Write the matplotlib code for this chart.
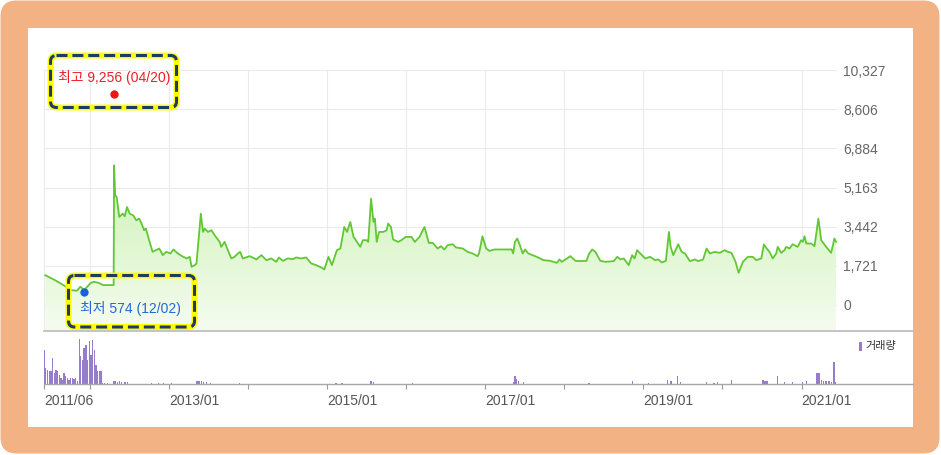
import numpy as np
import pandas as pd
import matplotlib
matplotlib.use('Agg')
import matplotlib.pyplot as plt
import matplotlib.dates as mdates
from matplotlib.patches import FancyBboxPatch, Rectangle
from matplotlib.colors import LinearSegmentedColormap
from matplotlib.lines import Line2D

plt.rcParams['font.family'] = ['Liberation Sans', 'Noto Sans CJK KR', 'DejaVu Sans']

# ---------------- data ----------------
price_dates = [
    '2011-06-07', '2011-07-21', '2011-09-07', '2011-09-30', '2011-10-31', '2011-11-16', '2011-11-30', '2011-12-02',
    '2012-01-01', '2012-01-16', '2012-02-07', '2012-02-29', '2012-04-18', '2012-04-20', '2012-04-25', '2012-05-02',
    '2012-05-14', '2012-05-30', '2012-06-08', '2012-06-19', '2012-07-01', '2012-07-17', '2012-08-01', '2012-08-14',
    '2012-08-25', '2012-09-06', '2012-09-14', '2012-09-29', '2012-10-15', '2012-10-31', '2012-11-15', '2012-12-01',
    '2012-12-17', '2013-01-05', '2013-01-20', '2013-02-05', '2013-02-28', '2013-03-22', '2013-04-05', '2013-04-13',
    '2013-04-28', '2013-05-06', '2013-05-26', '2013-06-05', '2013-06-13', '2013-06-28', '2013-07-14', '2013-07-29',
    '2013-08-21', '2013-08-28', '2013-09-13', '2013-09-28', '2013-10-14', '2013-10-29', '2013-11-13', '2013-11-24',
    '2013-12-06', '2014-01-07', '2014-02-07', '2014-03-02', '2014-03-25', '2014-04-17', '2014-05-10', '2014-05-22',
    '2014-06-09', '2014-07-02', '2014-07-25', '2014-08-10', '2014-09-02', '2014-09-25', '2014-10-18', '2014-11-10',
    '2014-12-03', '2014-12-18', '2015-01-06', '2015-01-22', '2015-02-14', '2015-03-02', '2015-03-20', '2015-04-02',
    '2015-04-17', '2015-05-02', '2015-05-18', '2015-06-02', '2015-06-14', '2015-07-02', '2015-07-09', '2015-07-22',
    '2015-08-02', '2015-08-09', '2015-08-17', '2015-08-28', '2015-09-16', '2015-10-02', '2015-10-09', '2015-10-22',
    '2015-11-01', '2015-11-24', '2015-12-09', '2015-12-29', '2016-01-25', '2016-02-09', '2016-03-02', '2016-03-25',
    '2016-04-14', '2016-05-02', '2016-05-25', '2016-06-09', '2016-06-25', '2016-07-10', '2016-08-02', '2016-08-18',
    '2016-09-18', '2016-10-10', '2016-11-02', '2016-11-25', '2016-12-02', '2016-12-18', '2017-01-04', '2017-01-19',
    '2017-02-11', '2017-05-02', '2017-05-09', '2017-05-17', '2017-05-28', '2017-06-09', '2017-06-22', '2017-07-03',
    '2017-07-18', '2017-08-26', '2017-09-26', '2017-10-27', '2017-11-27', '2017-12-09', '2017-12-20', '2018-01-13',
    '2018-01-28', '2018-02-21', '2018-03-16', '2018-04-13', '2018-04-24', '2018-05-09', '2018-05-24', '2018-06-16',
    '2018-07-09', '2018-08-17', '2018-09-02', '2018-09-17', '2018-10-02', '2018-10-25', '2018-11-10', '2018-11-21',
    '2018-12-03', '2018-12-18', '2018-12-26', '2019-01-09', '2019-02-01', '2019-02-24', '2019-03-11', '2019-03-27',
    '2019-04-15', '2019-04-29', '2019-05-07', '2019-05-19', '2019-06-11', '2019-06-27', '2019-07-12', '2019-08-04',
    '2019-08-27', '2019-09-11', '2019-10-04', '2019-10-20', '2019-11-04', '2019-11-27', '2019-12-20', '2020-01-12',
    '2020-01-27', '2020-02-12', '2020-03-02', '2020-03-16', '2020-04-05', '2020-04-28', '2020-05-21', '2020-06-06',
    '2020-06-29', '2020-07-11', '2020-07-24', '2020-08-06', '2020-08-21', '2020-09-06', '2020-09-13', '2020-09-29',
    '2020-10-14', '2020-10-22', '2020-11-06', '2020-11-21', '2020-12-14', '2020-12-30', '2021-01-07', '2021-01-15',
    '2021-01-23', '2021-02-15', '2021-03-02', '2021-03-20', '2021-04-02', '2021-04-25', '2021-05-18', '2021-06-02',
    '2021-06-10',
]
price_values = [
    1310, 1095, 830, 657, 626, 802, 688, 640,
    950, 1020, 977, 876, 876, 6132, 4818, 4744,
    3868, 4016, 3898, 4306, 4016, 3942, 3723, 3797,
    3578, 3285, 3359, 2847, 2335, 2409, 2483, 2190,
    2335, 2264, 2440, 2291, 2146, 2045, 2116, 1678,
    1752, 1826, 4016, 3211, 3359, 3211, 3285, 3066,
    2773, 2554, 2773, 2409, 2045, 2116, 2264, 2335,
    2045, 2146, 2002, 2190, 1971, 2045, 1897, 2089,
    1940, 2045, 2015, 2089, 2045, 2089, 1826, 1752,
    1651, 1564, 2116, 1752, 2409, 2483, 3430, 3211,
    3649, 2992, 2773, 2554, 2847, 2847, 2773, 4673,
    3649, 3797, 2773, 3211, 3211, 3285, 3578, 3430,
    2878, 2773, 2847, 2992, 2992, 2773, 2992, 3430,
    2729, 2729, 2483, 2584, 2440, 2628, 2672, 2527,
    2483, 2335, 2264, 2146, 2264, 3022, 2483, 2378,
    2440, 2440, 2264, 2773, 2921, 2628, 2264, 2440,
    2264, 2116, 1971, 1940, 1853, 2002, 1897, 2045,
    2146, 1940, 1927, 1940, 2234, 2440, 2335, 1940,
    1897, 1927, 2116, 2002, 2045, 1752, 2190, 2045,
    2409, 2264, 2190, 2045, 2116, 1971, 2002, 1870,
    1940, 3211, 2554, 2190, 2672, 2335, 2264, 1927,
    2002, 1927, 2002, 2483, 2264, 2335, 2291, 2409,
    2335, 2291, 1897, 1415, 1897, 2116, 2116, 1971,
    2045, 2659, 2483, 2335, 2045, 2264, 2554, 2291,
    2409, 2554, 2483, 2672, 2554, 2847, 2773, 3022,
    2702, 2702, 2584, 3797, 2847, 2554, 2291, 2921,
    2773,
]

vol_dates = [
    '2011-06-01', '2011-06-09', '2011-06-16', '2011-06-25', '2011-07-03', '2011-07-11', '2011-07-18', '2011-07-26',
    '2011-08-03', '2011-08-11', '2011-08-19', '2011-08-26', '2011-09-02', '2011-09-10', '2011-09-17', '2011-09-25',
    '2011-10-03', '2011-10-10', '2011-10-18', '2011-10-26', '2011-11-02', '2011-11-11', '2011-11-18', '2011-11-25',
    '2011-12-03', '2011-12-12', '2011-12-20', '2011-12-28', '2012-01-04', '2012-01-11', '2012-01-19', '2012-01-27',
    '2012-02-03', '2012-02-12', '2012-02-20', '2012-02-28', '2012-03-08', '2012-03-20', '2012-04-20', '2012-04-27',
    '2012-05-07', '2012-05-14', '2012-05-25', '2012-06-10', '2012-06-20', '2012-10-10', '2012-11-10', '2012-12-05',
    '2013-01-10', '2013-05-08', '2013-05-18', '2013-05-28', '2013-06-08', '2013-06-20', '2013-07-10', '2013-11-20',
    '2015-02-10', '2015-03-10', '2015-07-22', '2015-08-01', '2016-01-30', '2017-05-10', '2017-05-17', '2017-05-25',
    '2017-06-02', '2017-06-26', '2018-04-25', '2018-11-13', '2019-01-25', '2019-04-24', '2019-05-08', '2019-06-09',
    '2019-06-23', '2019-10-21', '2019-11-24', '2019-12-08', '2020-02-12', '2020-07-07', '2020-07-16', '2020-07-25',
    '2020-09-12', '2020-10-14', '2020-11-21', '2021-01-05', '2021-01-23', '2021-03-14', '2021-03-23', '2021-04-02',
    '2021-04-12', '2021-04-24', '2021-05-08', '2021-05-18', '2021-05-31', '2021-06-07',
]
vol_values = [
    340, 160, 140, 130, 130, 260, 110, 140,
    130, 90, 60, 40, 110, 80, 60, 40,
    60, 60, 50, 60, 30, 450, 280, 240,
    360, 390, 240, 430, 290, 440, 340, 190,
    130, 130, 130, 8, 6, 5, 25, 22,
    20, 25, 15, 12, 15, 6, 7, 6,
    8, 25, 22, 25, 20, 15, 10, 8,
    8, 8, 30, 15, 8, 15, 80, 50,
    30, 20, 10, 25, 10, 40, 30, 75,
    15, 20, 10, 15, 40, 35, 30, 25,
    75, 20, 15, 20, 30, 110, 110, 40,
    30, 25, 25, 20, 220, 20,
]

y_ticks = [0, 1721, 3442, 5163, 6884, 8606, 10327]
x_tick_dates = ['2011-06-01', '2012-01-01', '2013-01-01', '2014-01-01', '2015-01-01', '2016-01-01',
                '2017-01-01', '2018-01-01', '2019-01-01', '2020-01-01', '2021-01-01']
x_tick_labels = ['2011/06', '', '2013/01', '', '2015/01', '', '2017/01', '', '2019/01', '', '2021/01']
grid_dates = ['2012-01-01', '2013-01-01', '2014-01-01', '2015-01-01', '2016-01-01',
              '2017-01-01', '2018-01-01', '2019-01-01', '2020-01-01', '2021-01-01']
x_start, x_end = '2011-06-01', '2021-06-14'

high_label, high_date, high_value = '최고 9,256 (04/20)', '2012-04-20', 9256
low_label, low_date, low_value = '최저 574 (12/02)', '2011-12-02', 574
volume_label = '거래량'

# ---------------- figure ----------------
W, H = 941, 455
fig = plt.figure(figsize=(W / 100, H / 100), dpi=100)
fig.patch.set_facecolor('white')

def rect(l, t, r, b):
    return [l / W, 1 - b / H, (r - l) / W, (b - t) / H]

# background frame
bg = fig.add_axes([0, 0, 1, 1], zorder=-5)
bg.set_xlim(0, W); bg.set_ylim(H, 0); bg.axis('off')
bg.add_patch(FancyBboxPatch((0.5, 0.5), 939, 453, boxstyle='round,pad=0,rounding_size=16',
                            fc='#F3B284', ec='none'))
bg.add_patch(Rectangle((28, 28), 885, 399, fc='white', ec='none'))

# main price axes
ymin, ymax = -1099, 10327
ax = fig.add_axes(rect(44, 70, 837, 330), zorder=1)
ax.set_facecolor('none')
px = mdates.date2num(pd.to_datetime(price_dates))
py = np.array(price_values, dtype=float)
xl = mdates.date2num(pd.to_datetime([x_start, x_end]))

poly = ax.fill_between(px, py, ymin, facecolor='none', edgecolor='none')
cmap = LinearSegmentedColormap.from_list('g', ['#F5FCEF', '#CBF2B4'])
grad = np.linspace(0, 1, 256).reshape(-1, 1)
im = ax.imshow(grad, extent=[px.min(), px.max(), ymin, 6300], origin='lower',
               aspect='auto', cmap=cmap, zorder=1, interpolation='bilinear')
im.set_clip_path(poly.get_paths()[0], transform=ax.transData)
ax.plot(px, py, color='#62C735', lw=1.3, zorder=3, solid_joinstyle='round')

ax.set_xlim(xl[0], xl[1])
ax.set_ylim(ymin, ymax)
ax.set_yticks(y_ticks)
ax.set_yticklabels([f'{v:,}' for v in y_ticks])
ax.set_xticks(mdates.date2num(pd.to_datetime(grid_dates)))
ax.grid(True, color='#EBEBEB', lw=0.8)
ax.set_axisbelow(True)
ax.yaxis.tick_right()
ax.tick_params(axis='y', length=0, pad=4.5, labelsize=10, labelcolor='#666666')
ax.tick_params(axis='x', length=0, labelbottom=False)
for s in ['top', 'right', 'bottom']:
    ax.spines[s].set_visible(False)
ax.spines['left'].set_color('#EBEBEB')
ax.spines['left'].set_linewidth(0.8)

# high / low markers and labels
hd = mdates.date2num(pd.to_datetime(high_date))
ld = mdates.date2num(pd.to_datetime(low_date))
ax.plot([hd], [high_value], 'o', color='#F01616', ms=6, mec='none', zorder=6, clip_on=False)
ax.annotate(high_label, xy=(hd, high_value), xytext=(0, 12.5), textcoords='offset points',
            ha='center', va='center', color='#E8202A', fontsize=10, zorder=6)
ax.plot([ld], [low_value], 'o', color='#1C60D8', ms=6, mec='none', zorder=6, clip_on=False)
ax.annotate(low_label, xy=(ld, low_value), xytext=(-3, -11.8), textcoords='offset points',
            ha='left', va='center', color='#2468D4', fontsize=10, zorder=6)

# volume axes
axv = fig.add_axes(rect(44, 331, 837, 383.5), zorder=1)
axv.set_facecolor('none')
vd = mdates.date2num(pd.to_datetime(vol_dates))
axv.bar(vd, vol_values, width=6, color='#977CCB', linewidth=0, zorder=2)
axv.set_xlim(xl[0], xl[1])
axv.set_ylim(0, 525)
axv.set_yticks([])
for s in axv.spines.values():
    s.set_visible(False)
axv.set_xticks(mdates.date2num(pd.to_datetime(x_tick_dates)))
axv.set_xticklabels(x_tick_labels)
axv.tick_params(axis='x', length=3.6, width=0.8, color='#999999', pad=4,
                labelsize=10, labelcolor='#555555')
for lbl in axv.get_xticklabels():
    lbl.set_ha('left')

# overlay: separator lines, annotation boxes, legend
ov = fig.add_axes([0, 0, 1, 1], zorder=10)
ov.set_xlim(0, W); ov.set_ylim(H, 0); ov.axis('off')
ov.patch.set_alpha(0)
ov.add_line(Line2D([44, 913], [330.5, 330.5], color='#B4B4B4', lw=1.1))
ov.add_line(Line2D([44, 913], [383.5, 383.5], color='#A8A8A8', lw=1.0))

for (bx, by, bw, bh) in [(50.5, 55.5, 126, 52), (68.5, 275.5, 126, 51.5)]:
    ov.add_patch(FancyBboxPatch((bx, by), bw, bh, boxstyle='round,pad=0,rounding_size=6',
                                fc='none', ec='#FFFF00', lw=4.3))
    p = FancyBboxPatch((bx, by), bw, bh, boxstyle='round,pad=0,rounding_size=6',
                       fc='none', ec='#1F3A64', lw=2.2)
    p.set_linestyle((0, (3.6, 1.6)))
    ov.add_patch(p)

ov.add_patch(Rectangle((859, 342), 3.5, 9, fc='#977CCB', ec='none'))
ov.text(865, 346.5, volume_label, ha='left', va='center', fontsize=8, color='#333333',
        family=['Noto Sans CJK KR', 'DejaVu Sans'])

fig.savefig('out.png', dpi=100)
